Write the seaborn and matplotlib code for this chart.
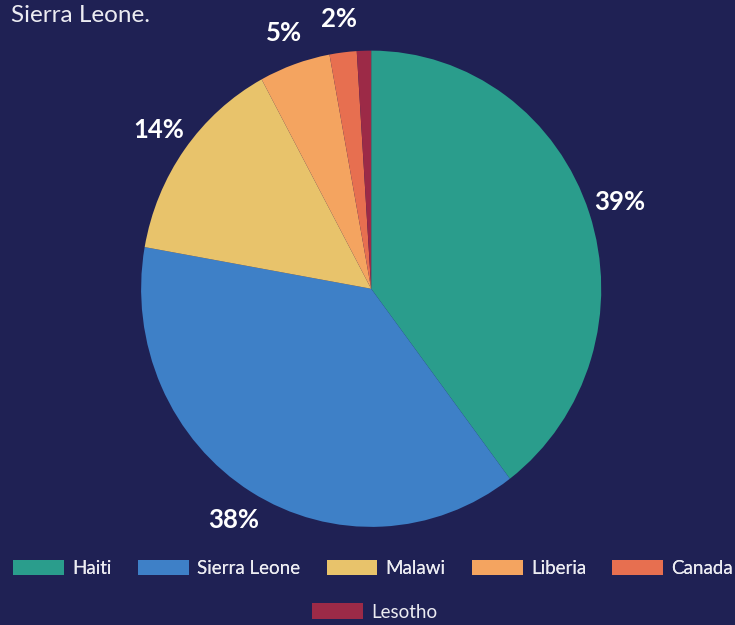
import matplotlib
matplotlib.use('Agg')
import matplotlib.pyplot as plt
import matplotlib.patches as mpatches
import seaborn as sns

# Datos del gráfico
countries = ['Haiti', 'Sierra Leone', 'Malawi', 'Liberia', 'Canada', 'Lesotho']
shares = [39.7, 38.1, 14.3, 5.0, 1.9, 1.0]
pct_labels = ['39%', '38%', '14%', '5%', '2%', '']
colors = ['#2a9d8c', '#3e80c7', '#e8c36b', '#f4a460', '#e76f50', '#9c2a47']

bg = '#1f2154'

sns.set_theme(style='white')
plt.rcParams['font.family'] = ['Lato', 'DejaVu Sans']
plt.rcParams['text.color'] = 'white'

fig = plt.figure(figsize=(7.35, 6.25), dpi=100, facecolor=bg)
ax = fig.add_axes([0.192, 0.157, 0.626, 0.762])
ax.set_facecolor(bg)

wedges, texts = ax.pie(
    shares,
    colors=colors,
    startangle=90,
    counterclock=False,
    labels=pct_labels,
    labeldistance=1.14,
    textprops={'color': 'white', 'fontsize': 18.5, 'fontweight': 'bold'},
    wedgeprops={'linewidth': 0},
)
for t in texts:
    t.set_horizontalalignment('center')
    t.set_verticalalignment('center')
ax.set_xlim(-1, 1)
ax.set_ylim(-1, 1)
ax.set_aspect('auto')
ax.axis('off')

# Texto superior (cortado en el original)
fig.text(0.015, 0.975, 'Sierra Leone.', fontsize=17.5, color='#ececf2',
         ha='left', va='center')

# Leyenda en dos filas
handles = [mpatches.Patch(facecolor=c, edgecolor='none', linewidth=0, label=n)
           for c, n in zip(colors, countries)]
leg_kw = dict(frameon=False, fontsize=13.5, handlelength=2.7, handleheight=0.9,
              handletextpad=0.45, columnspacing=1.4, labelcolor='#ececf2')
leg1 = fig.legend(handles=handles[:5], loc='center', ncol=5,
                  bbox_to_anchor=(0.508, 0.091), **leg_kw)
fig.add_artist(leg1)
fig.legend(handles=handles[5:], loc='center', ncol=1,
           bbox_to_anchor=(0.51, 0.021), **leg_kw)

fig.savefig('out.png', dpi=100, facecolor=bg)
